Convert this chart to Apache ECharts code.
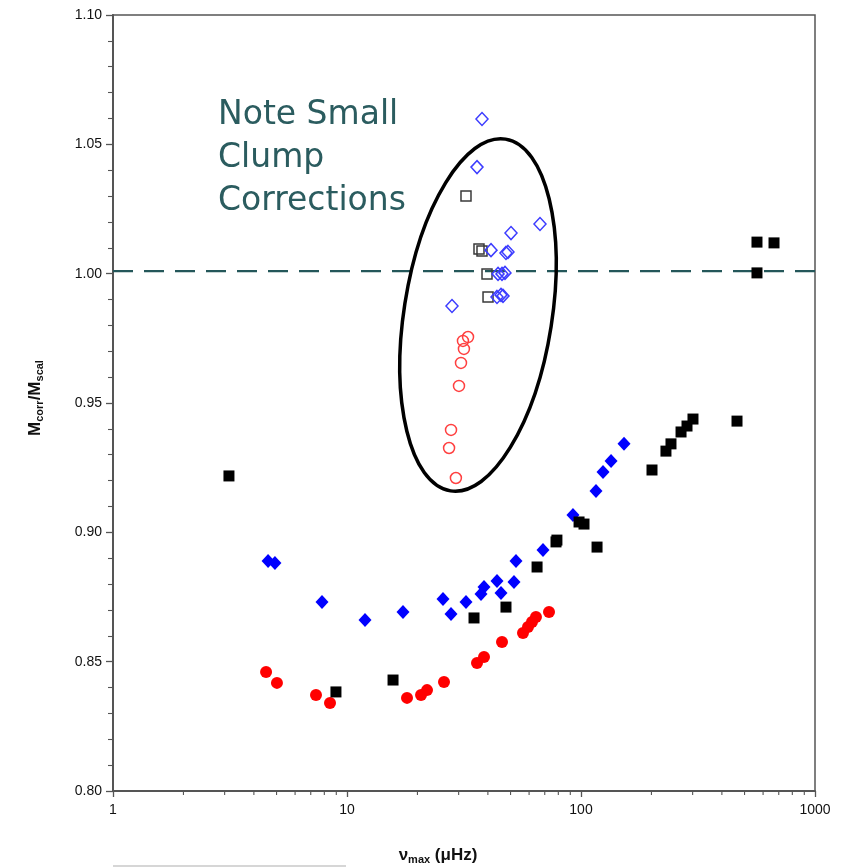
<!DOCTYPE html>
<html><head><meta charset="utf-8">
<script src="https://cdn.jsdelivr.net/npm/echarts@6/dist/echarts.min.js"></script>
<style>html,body{margin:0;padding:0;background:#fff}#c{width:846px;height:868px}</style>
</head><body><div id="c"></div>
<script>
// ---- data (numax in µHz, mass ratio) ----
const blackFilledX = [3.13, 8.97, 15.73, 34.9, 47.8, 64.9, 78.2, 78.9, 98.1, 103.0, 117.1, 201.1, 230.7, 242.4, 267.6, 283.8, 301.0, 464.2, 565.0, 668.1, 565.0];
const blackFilledY = [0.9218, 0.8383, 0.8429, 0.8669, 0.8711, 0.8866, 0.8963, 0.8970, 0.9040, 0.9032, 0.8943, 0.9241, 0.9314, 0.9342, 0.9388, 0.9411, 0.9438, 0.9430, 1.0122, 1.0119, 1.0003];
const blueFilledX = [4.60, 4.92, 7.82, 11.94, 17.35, 25.72, 27.83, 32.25, 37.38, 38.50, 43.75, 45.51, 51.71, 52.74, 68.8, 92.4, 115.9, 124.2, 134.4, 152.7];
const blueFilledY = [0.8889, 0.8881, 0.8731, 0.8661, 0.8692, 0.8742, 0.8684, 0.8731, 0.8762, 0.8789, 0.8812, 0.8765, 0.8808, 0.8889, 0.8932, 0.9067, 0.9160, 0.9233, 0.9276, 0.9342];
const redFilledX = [4.51, 5.02, 7.37, 8.46, 18.05, 20.72, 21.98, 25.97, 35.94, 38.50, 45.96, 56.5, 59.35, 61.73, 64.2, 73.0];
const redFilledY = [0.8460, 0.8418, 0.8371, 0.8340, 0.8360, 0.8371, 0.8390, 0.8421, 0.8495, 0.8518, 0.8576, 0.8611, 0.8634, 0.8653, 0.8673, 0.8692];
const blueOpenX = [37.75, 35.94, 66.8, 50.22, 41.25, 47.8, 48.75, 44.2, 45.96, 47.33, 43.75, 45.51, 46.42, 28.1];
const blueOpenY = [1.0598, 1.0412, 1.0192, 1.0157, 1.0091, 1.0080, 1.0084, 0.9999, 0.9999, 1.0003, 0.9910, 0.9918, 0.9914, 0.9875];
const blackOpenX = [32.25, 36.65, 37.75, 39.66, 40.06];
const blackOpenY = [1.0300, 1.0095, 1.0088, 0.9999, 0.9910];
const redOpenX = [32.9, 31.3, 31.6, 30.7, 30.1, 27.83, 27.3, 29.2];
const redOpenY = [0.9755, 0.9740, 0.9709, 0.9655, 0.9566, 0.9396, 0.9326, 0.9210];
const refLineX = [1, 1000];
const refLineY = [1.001, 1.001];
const xMinorTicks = [2,3,4,5,6,7,8,9,20,30,40,50,60,70,80,90,200,300,400,500,600,700,800,900];
const noteLines = ['Note Small', 'Clump', 'Corrections'];

const zip = (xs, ys) => xs.map((x, i) => [x, ys[i]]);

const chart = echarts.init(document.getElementById('c'), null, {renderer: 'canvas'});
const axisFont = {fontFamily: 'Liberation Sans, Arial, sans-serif', fontSize: 14, color: '#111'};
const subRich = {
  m: {fontFamily: 'Liberation Sans, Arial', fontSize: 17, fontWeight: 'bold', fill: '#111', verticalAlign: 'top', lineHeight: 19},
  s: {fontFamily: 'Liberation Sans, Arial', fontSize: 11, fontWeight: 'bold', fill: '#111', verticalAlign: 'bottom', lineHeight: 12, padding: [9, 0, 0, 0]}
};

chart.setOption({
  animation: false,
  backgroundColor: '#fff',
  grid: {left: 113, right: 31, top: 15, bottom: 77, show: true, borderColor: '#555', borderWidth: 1.5},
  xAxis: {
    type: 'log', logBase: 10, min: 1, max: 1000,
    axisLine: {lineStyle: {color: '#555', width: 2}},
    axisTick: {show: true, inside: false, length: 6, lineStyle: {color: '#555', width: 1.3}},
    axisLabel: Object.assign({margin: 12, formatter: v => String(v)}, axisFont),
    splitLine: {show: false}
  },
  yAxis: {
    type: 'value', min: 0.80, max: 1.10, interval: 0.05,
    axisLine: {show: true, lineStyle: {color: '#555', width: 2}},
    axisTick: {show: true, inside: false, length: 7, lineStyle: {color: '#555', width: 1.3}},
    minorTick: {show: true, splitNumber: 5, length: 5, lineStyle: {color: '#555', width: 1.1}},
    axisLabel: Object.assign({margin: 11, formatter: v => v.toFixed(2)}, axisFont),
    splitLine: {show: false}
  },
  series: [
    {
      type: 'custom', silent: true, clip: false, z: 1,
      data: xMinorTicks.map(v => [v, 0.80]),
      renderItem: (params, api) => {
        const p = api.coord([api.value(0), api.value(1)]);
        return {type: 'line', shape: {x1: p[0], y1: p[1], x2: p[0], y2: p[1] + 4}, style: {stroke: '#555', lineWidth: 1.1}};
      }
    },
    {
      type: 'line', data: zip(refLineX, refLineY), symbol: 'none', silent: true, z: 1,
      lineStyle: {color: '#24575a', width: 2.2, type: [20, 11]}
    },
    {type: 'scatter', data: zip(redOpenX, redOpenY), symbol: 'circle', symbolSize: 11, z: 3,
     itemStyle: {color: 'rgba(0,0,0,0)', borderColor: '#ff4040', borderWidth: 1.5, opacity: 1}},
    {type: 'scatter', data: zip(blackOpenX, blackOpenY), symbol: 'rect', symbolSize: 10, z: 3,
     itemStyle: {color: 'rgba(0,0,0,0)', borderColor: '#3a3a3a', borderWidth: 1.5, opacity: 1}},
    {type: 'scatter', data: zip(blueOpenX, blueOpenY), symbol: 'diamond', symbolSize: [12, 13], z: 3,
     itemStyle: {color: 'rgba(0,0,0,0)', borderColor: '#3c3cff', borderWidth: 1.5, opacity: 1}},
    {type: 'scatter', data: zip(redFilledX, redFilledY), symbol: 'circle', symbolSize: 12, z: 3,
     itemStyle: {color: '#ff0000', opacity: 1}},
    {type: 'scatter', data: zip(blueFilledX, blueFilledY), symbol: 'diamond', symbolSize: [13, 14], z: 3,
     itemStyle: {color: '#0000ff', opacity: 1}},
    {type: 'scatter', data: zip(blackFilledX, blackFilledY), symbol: 'rect', symbolSize: 11, z: 4,
     itemStyle: {color: '#000', opacity: 1}}
  ],
  graphic: [
    {type: 'ellipse', z: 10, silent: true, x: 478, y: 315, rotation: -0.155,
     shape: {cx: 0, cy: 0, rx: 74, ry: 178},
     style: {fill: null, stroke: '#000', lineWidth: 3.5}},
    {type: 'text', z: 10, x: 218, y: 94,
     style: {text: noteLines.join('\n'), fontFamily: 'DejaVu Sans, sans-serif', fontSize: 33, lineHeight: 43, fill: '#2b5c5f'}},
    {type: 'text', z: 10, x: 36, y: 398, rotation: Math.PI / 2,
     style: {text: '{m|M}{s|corr}{m|/M}{s|scal}', align: 'center', verticalAlign: 'middle', rich: subRich}},
    {type: 'text', z: 10, x: 438, y: 856,
     style: {text: '{m|ν}{s|max}{m| (μHz)}', align: 'center', verticalAlign: 'middle', rich: subRich}},
    {type: 'line', z: 10, silent: true, shape: {x1: 113, y1: 866, x2: 346, y2: 866}, style: {stroke: '#c8c8c8', lineWidth: 1.5}}
  ]
});
</script></body></html>
